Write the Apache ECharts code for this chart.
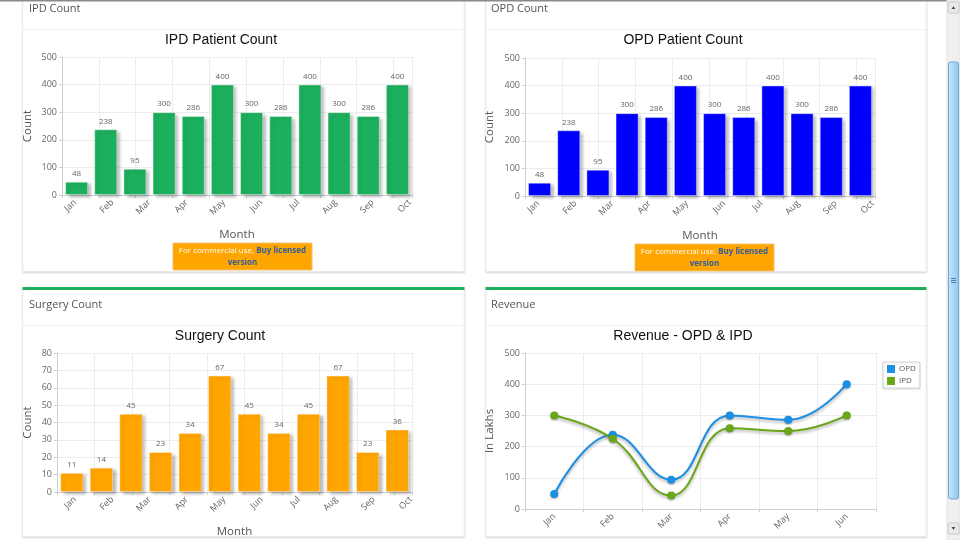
<!DOCTYPE html>
<html>
<head>
<meta charset="utf-8">
<script src="https://cdn.jsdelivr.net/npm/echarts@6/dist/echarts.min.js"></script>
<style>
html,body{margin:0;padding:0;background:#fff;}
#c{width:960px;height:540px;}
</style>
</head>
<body>
<div id="c"></div>
<script>
// ---- data ----
const barSlots = ['Jan','Feb','Mar','Apr','May','Jun','Jul','Aug','Sep','Oct','Nov','Dec'];
const axisMonths = ['Jan','Feb','Mar','Apr','May','Jun','Jul','Aug','Sep','Oct'];
const ipdCounts = [48,238,95,300,286,400,300,286,400,300,286,400];
const opdCounts = [48,238,95,300,286,400,300,286,400,300,286,400];
const surgeryCounts = [11,14,45,23,34,67,45,34,45,67,23,36];
const revenueMonths = ['Jan','Feb','Mar','Apr','May','Jun'];
const revenueOPD = [48,238,94,300,286,400];
const revenueIPD = [300,225,43,259,250,300];
const panelTitles = ['IPD Count','OPD Count','Surgery Count','Revenue'];
const chartTitles = ['IPD Patient Count','OPD Patient Count','Surgery Count','Revenue - OPD & IPD'];

const chart = echarts.init(document.getElementById('c'));
const FONT = 'Open Sans';
const TFONT = 'Liberation Sans';
const gridLine = '#ececec';
const axisCol = '#cfcfcf';
const labelCol = '#666';

const grids = [], xAxes = [], yAxes = [], series = [];

function barChart(gi, box, data, color, yMax, yInt, gridMax, lblMin, lblMax, yNameGap) {
  grids.push(Object.assign({outerBoundsMode:'none', containLabel:false}, box));
  const base = xAxes.length;
  // bar axis
  xAxes.push({type:'category', gridIndex:gi, position:'bottom', data:barSlots,
    axisLine:{show:true, lineStyle:{color:axisCol}}, axisTick:{show:false},
    axisLabel:{show:false}, splitLine:{show:false}});
  // grid line axis
  xAxes.push({type:'value', gridIndex:gi, position:'bottom', min:0, max:gridMax, interval:1,
    axisLine:{show:false}, axisTick:{show:true, length:3, lineStyle:{color:axisCol}},
    axisLabel:{show:false}, splitLine:{show:true, lineStyle:{color:gridLine}}});
  // month label axis
  xAxes.push({type:'value', gridIndex:gi, position:'bottom', min:lblMin, max:lblMax,
    axisLine:{show:false}, axisTick:{show:false}, splitLine:{show:false},
    name:'Month', nameLocation:'middle', nameGap:34,
    nameTextStyle:{color:'#555', fontSize:11.5, fontFamily:FONT},
    axisLabel:{show:true, rotate:45, margin:6, color:labelCol, fontSize:9, fontFamily:FONT,
      customValues: axisMonths.map((m,i)=>i),
      formatter: v => axisMonths[Math.round(v)] || ''}});
  yAxes.push({type:'value', gridIndex:gi, min:0, max:yMax, interval:yInt,
    name:'Count', nameLocation:'middle', nameGap:yNameGap,
    nameTextStyle:{color:'#555', fontSize:11.5, fontFamily:FONT},
    axisLine:{show:true, lineStyle:{color:axisCol}},
    axisTick:{show:true, length:3, lineStyle:{color:axisCol}},
    axisLabel:{color:labelCol, fontSize:9, margin:5, fontFamily:FONT},
    splitLine:{show:true, lineStyle:{color:gridLine}}});
  series.push({type:'bar', xAxisIndex:base, yAxisIndex:gi, data:data, barCategoryGap:'21%',
    itemStyle:{color:color, borderColor:'rgba(255,255,255,0.35)', borderWidth:1,
      shadowColor:'rgba(0,0,0,0.28)', shadowBlur:3, shadowOffsetX:3, shadowOffsetY:2},
    label:{show:true, position:'top', distance:4, color:'#666', fontSize:8, fontFamily:FONT}});
}

barChart(0, {left:62, top:57, width:350, height:138}, ipdCounts, '#1CAF5D', 500, 100, 9.5, -0.35, 9.06, 28);
barChart(1, {left:525, top:58, width:350, height:138}, opdCounts, '#0000FF', 500, 100, 9.5, -0.35, 9.06, 29);
barChart(2, {left:57, top:353, width:355, height:139}, surgeryCounts, '#FFA500', 80, 10, 9.47, -0.48, 9.03, 23);

// revenue
grids.push({left:525, top:353, width:351, height:156, outerBoundsMode:'none', containLabel:false});
const revX = xAxes.length;
xAxes.push({type:'category', gridIndex:3, position:'bottom', data:revenueMonths, boundaryGap:true,
  axisLine:{show:true, lineStyle:{color:axisCol}},
  axisTick:{show:true, length:3, lineStyle:{color:axisCol}},
  axisLabel:{rotate:45, margin:6, color:labelCol, fontSize:9, fontFamily:FONT},
  splitLine:{show:true, lineStyle:{color:gridLine}}});
yAxes.push({type:'value', gridIndex:3, min:0, max:500, interval:100,
  name:'In Lakhs', nameLocation:'middle', nameGap:29,
  nameTextStyle:{color:'#555', fontSize:11.5, fontFamily:FONT},
  axisLine:{show:true, lineStyle:{color:axisCol}},
  axisTick:{show:true, length:3, lineStyle:{color:axisCol}},
  axisLabel:{color:labelCol, fontSize:9, margin:5, fontFamily:FONT},
  splitLine:{show:true, lineStyle:{color:gridLine}}});
function lineSeries(name, data, color) {
  return {type:'line', name:name, xAxisIndex:revX, yAxisIndex:3, data:data, smooth:0.45,
    symbol:'circle', symbolSize:8,
    lineStyle:{width:2, color:color, shadowColor:'rgba(0,0,0,0.3)', shadowBlur:3, shadowOffsetY:2},
    itemStyle:{color:color, shadowColor:'rgba(0,0,0,0.3)', shadowBlur:2, shadowOffsetY:1}};
}
series.push(lineSeries('OPD', revenueOPD, '#1B8FE3'));
series.push(lineSeries('IPD', revenueIPD, '#6AA619'));

// titles
const titlePos = [[221,33],[683,33],[220,329],[683,329]];
const titles = chartTitles.map((t,i)=>({text:t, left:titlePos[i][0], top:titlePos[i][1], textAlign:'center', padding:0,
  textStyle:{fontSize:14, fontWeight:'normal', color:'#111', fontFamily:TFONT}}));

// decorations
const graphics = [];
function panel(x, y, w, h, divY, green) {
  graphics.push({type:'rect', z:-20, shape:{x:x, y:y, width:w, height:h},
    style:{fill:'#fff', stroke:'#eaeaea', lineWidth:1, shadowColor:'rgba(0,0,0,0.10)', shadowBlur:2, shadowOffsetY:1}});
  graphics.push({type:'line', z:-19, shape:{x1:x, y1:divY, x2:x+w, y2:divY}, style:{stroke:'#f0f0f0', lineWidth:1}});
  if (green) graphics.push({type:'rect', z:-18, shape:{x:x, y:y-1, width:w, height:3}, style:{fill:'#1CAF5D'}});
}
panel(22.5, -2, 442, 273.5, 29.5, false);
panel(485.5, -2, 441, 273.5, 29.5, false);
panel(22.5, 288, 442, 248.5, 325.5, true);
panel(485.5, 288, 441, 248.5, 325.5, true);
const headerPos = [[29,9],[491,9],[29,305],[491,305]];
panelTitles.forEach((t,i)=>graphics.push({type:'text', z:5, x:headerPos[i][0], y:headerPos[i][1],
  style:{text:t, fill:'#555', fontSize:11, fontFamily:FONT, textVerticalAlign:'middle'}}));

// commercial boxes
function commercial(x, y) {
  graphics.push({type:'rect', z:5, shape:{x:x, y:y, width:139, height:27}, style:{fill:'#FFA500', stroke:'#f0c070', lineWidth:1}});
  graphics.push({type:'text', z:6, x:x+69.5, y:y+14, style:{
    text:'{w|For commercial use, }{b|Buy licensed}\n{b|version}', align:'center', verticalAlign:'middle',
    lineHeight:12,
    rich:{w:{fill:'#fff', fontSize:8, fontFamily:FONT, lineHeight:12},
          b:{fill:'#2f5f9f', fontSize:8, fontWeight:'bold', fontFamily:FONT, lineHeight:12}}}});
}
commercial(173, 243);
commercial(635, 244);

// window top line
graphics.push({type:'rect', z:10, shape:{x:0, y:0, width:947, height:1.5}, style:{fill:'#8a8a8a'}});
// scrollbar
graphics.push({type:'rect', z:10, shape:{x:947, y:0, width:13, height:540}, style:{fill:'#f0f0f0', stroke:'#e2e2e2', lineWidth:1}});
graphics.push({type:'rect', z:11, shape:{x:948, y:2, width:11, height:11, r:1}, style:{fill:'#eaeaea', stroke:'#c8c8c8', lineWidth:1}});
graphics.push({type:'polygon', z:12, shape:{points:[[951.5,9],[955.5,9],[953.5,6]]}, style:{fill:'#555'}});
graphics.push({type:'rect', z:11, shape:{x:948, y:523, width:11, height:11, r:1}, style:{fill:'#eaeaea', stroke:'#c8c8c8', lineWidth:1}});
graphics.push({type:'polygon', z:12, shape:{points:[[951.5,527],[955.5,527],[953.5,530]]}, style:{fill:'#555'}});
graphics.push({type:'rect', z:11, shape:{x:948.5, y:62, width:10, height:437, r:2},
  style:{fill:new echarts.graphic.LinearGradient(0,0,1,0,[{offset:0,color:'#cbe6f8'},{offset:0.5,color:'#a9d6f5'},{offset:1,color:'#92c6ec'}]), stroke:'#6fa8d6', lineWidth:1}});
[278,280,282].forEach(yy=>graphics.push({type:'line', z:12, shape:{x1:951, y1:yy+0.5, x2:956, y2:yy+0.5}, style:{stroke:'#4a7fb0', lineWidth:1}}));

chart.setOption({
  animation:false,
  backgroundColor:'#fff',
  title:titles,
  legend:{show:true, data:['OPD','IPD'], orient:'vertical', left:883, top:362, icon:'rect',
    itemWidth:8, itemHeight:8, itemGap:4, padding:[3,4], borderColor:'#d6d6d6', borderWidth:1,
    backgroundColor:'#fff', shadowColor:'rgba(0,0,0,0.12)', shadowBlur:2, shadowOffsetY:1,
    textStyle:{fontSize:8, color:'#555', fontFamily:FONT, padding:[0,0,0,-1]}},
  grid:grids, xAxis:xAxes, yAxis:yAxes, series:series,
  graphic:graphics
});
</script>
</body>
</html>
